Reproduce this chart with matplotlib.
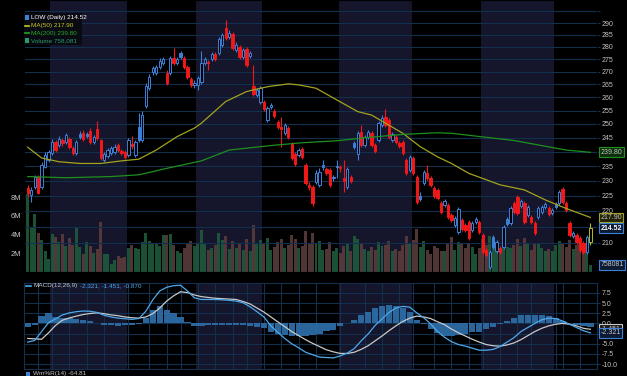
import numpy as np
import pandas as pd
import matplotlib.pyplot as plt
from matplotlib.patches import Rectangle
from matplotlib.ticker import FixedLocator, NullLocator, FuncFormatter

plt.rcParams['font.family'] = ['Liberation Sans', 'DejaVu Sans']

# trading days shown on the chart
holidays = ['2025-11-27', '2025-12-25', '2026-01-01', '2026-01-19', '2026-02-16',
            '2026-04-03', '2026-05-25', '2026-06-19', '2026-07-03']
days = pd.bdate_range('2025-11-19', '2026-07-16', freq='C', holidays=holidays)

opens = [227.6, 225.2, 227.9, 231.3, 227.9, 234.7, 237.1, 239.6, 243.5, 242.4,
         244.2, 243.5, 244.6, 241.3, 239.6, 246.4, 246.7, 246.4, 247.4, 243.5,
         248.2, 244.2, 237.1, 238.5, 239.6, 239.9, 242.4, 240.3, 239.9, 238.9,
         242.8, 238.9, 248.9, 244.2, 256.7, 263.6, 269.9, 269.5, 271.8, 273.4,
         269.5, 269.5, 275.5, 273.4, 277.5, 275.5, 271.8, 267.1, 264.8, 264.8,
         265.9, 273.4, 273.8, 275.1, 277.1, 277.5, 280.8, 287.9, 284.1, 285.3,
         278.7, 280.0, 275.9, 279.1, 276.3, 264.4, 260.9, 258.2, 258.2, 251.5,
         256.3, 254.8, 250.7, 248.9, 246.7, 248.5, 242.8, 239.2, 238.9, 241.0,
         235.4, 228.6, 227.9, 229.6, 228.6, 235.4, 234.0, 233.7, 231.3, 235.0,
         234.7, 230.9, 227.9, 231.3, 243.1, 239.2, 247.1, 242.4, 245.3, 246.7,
         242.4, 244.2, 249.6, 252.6, 251.5, 244.2, 245.3, 243.1, 243.5, 237.1,
         233.7, 237.8, 231.3, 224.9, 229.2, 232.6, 230.9, 227.6, 226.9, 222.6,
         222.0, 222.0, 218.7, 215.5, 213.3, 217.1, 215.5, 216.5, 213.9, 216.5,
         216.5, 212.4, 207.8, 202.6, 211.8, 207.4, 208.4, 208.7, 217.4, 216.1,
         222.6, 224.6, 221.6, 222.6, 218.7, 218.1, 216.1, 218.1, 219.7, 221.3,
         221.0, 219.4, 222.3, 222.6, 227.2, 222.6, 216.1, 212.1, 212.4, 211.4,
         209.9, 207.1, 210.2]
closes = [225.9, 226.9, 231.3, 225.9, 235.4, 238.9, 239.9, 243.5, 240.6, 244.6,
          243.1, 246.0, 241.7, 239.6, 243.5, 245.3, 244.6, 245.6, 243.5, 245.3,
          244.9, 237.8, 239.2, 240.6, 241.3, 241.7, 240.6, 239.6, 238.2, 244.2,
          242.1, 243.5, 244.2, 253.3, 264.4, 267.9, 271.4, 271.8, 274.2, 275.1,
          265.5, 275.5, 273.4, 275.1, 275.9, 271.8, 267.9, 264.8, 265.5, 267.5,
          273.4, 275.1, 273.4, 277.1, 275.1, 283.3, 284.9, 283.7, 285.8, 279.5,
          280.8, 275.9, 278.7, 272.6, 277.5, 261.3, 262.8, 263.6, 255.6, 255.9,
          257.1, 253.0, 248.9, 248.2, 249.6, 245.3, 237.8, 235.7, 240.6, 238.2,
          229.2, 227.9, 222.6, 232.6, 233.0, 234.7, 232.6, 228.6, 230.9, 234.7,
          234.4, 229.9, 234.0, 229.9, 241.7, 246.7, 242.4, 245.3, 247.1, 242.4,
          240.3, 250.4, 252.2, 249.6, 245.3, 246.4, 243.5, 242.1, 239.6, 232.6,
          238.2, 232.6, 222.9, 223.9, 233.0, 230.9, 228.6, 224.9, 224.2, 219.7,
          223.3, 218.1, 217.1, 217.7, 220.6, 214.3, 213.9, 211.4, 216.1, 217.4,
          213.3, 207.1, 206.2, 207.1, 208.7, 210.2, 207.1, 214.9, 215.8, 221.0,
          219.7, 219.4, 223.3, 216.5, 221.3, 216.5, 213.0, 221.0, 221.3, 222.3,
          219.0, 220.3, 221.3, 226.2, 222.9, 220.3, 212.4, 213.0, 210.2, 207.8,
          207.1, 211.8, 214.52]
highs = [228.6, 227.9, 232.0, 232.0, 236.4, 239.9, 240.6, 244.6, 244.2, 245.6,
         244.9, 246.7, 245.3, 242.1, 244.2, 247.4, 247.8, 247.1, 248.5, 246.0,
         251.1, 244.6, 239.9, 241.3, 242.1, 242.8, 243.1, 241.0, 240.6, 244.9,
         245.6, 244.2, 254.1, 254.8, 265.5, 269.1, 272.2, 272.6, 275.5, 275.9,
         270.7, 276.3, 279.5, 275.9, 278.3, 276.3, 272.6, 267.9, 266.7, 268.3,
         278.3, 275.9, 274.7, 277.9, 277.9, 284.1, 285.8, 291.3, 287.0, 286.2,
         282.0, 280.8, 279.5, 280.0, 278.3, 272.6, 263.6, 264.4, 259.0, 256.7,
         257.8, 255.6, 251.5, 252.6, 250.4, 249.3, 243.5, 239.9, 241.3, 241.7,
         236.1, 229.6, 228.6, 233.7, 234.4, 237.1, 234.7, 234.4, 232.0, 237.1,
         235.4, 237.1, 234.7, 232.0, 243.8, 247.4, 249.6, 246.0, 247.8, 247.4,
         243.1, 251.1, 253.3, 255.6, 252.2, 247.1, 246.0, 243.8, 244.2, 237.8,
         238.9, 238.5, 232.0, 226.2, 233.7, 235.4, 231.6, 228.2, 227.6, 223.3,
         223.9, 222.6, 219.4, 218.4, 221.3, 217.7, 216.1, 217.1, 216.8, 218.1,
         217.1, 213.0, 208.4, 207.8, 212.4, 210.8, 209.0, 215.5, 218.1, 221.6,
         223.3, 225.2, 223.9, 223.3, 222.0, 218.7, 216.8, 221.6, 222.0, 222.9,
         221.6, 221.0, 222.9, 226.9, 227.9, 223.3, 216.8, 213.6, 213.0, 212.1,
         210.5, 212.4, 216.1]
lows = [224.6, 222.9, 227.2, 225.6, 227.2, 234.3, 236.4, 238.9, 239.9, 241.7,
        242.1, 242.8, 241.0, 238.9, 238.9, 244.6, 243.9, 244.9, 242.8, 242.8,
        244.2, 237.1, 236.4, 237.8, 238.9, 239.2, 239.9, 238.9, 237.5, 238.2,
        241.0, 238.2, 243.5, 243.5, 256.0, 262.8, 268.7, 268.7, 271.0, 272.6,
        264.8, 268.7, 272.6, 272.6, 275.1, 271.0, 267.1, 264.0, 263.6, 262.8,
        265.1, 272.6, 270.7, 274.2, 274.2, 276.7, 280.0, 282.8, 283.3, 278.7,
        277.9, 275.1, 275.1, 271.8, 275.5, 260.5, 260.1, 257.5, 254.8, 250.7,
        255.6, 252.2, 248.2, 241.7, 246.0, 244.6, 237.1, 235.0, 238.2, 237.5,
        228.6, 226.9, 221.6, 228.9, 227.9, 233.7, 232.0, 227.9, 229.9, 230.9,
        233.0, 226.2, 227.2, 229.2, 241.0, 237.1, 241.7, 241.7, 244.6, 241.7,
        239.6, 243.5, 248.9, 248.9, 244.6, 243.5, 242.8, 241.3, 238.9, 232.0,
        233.0, 232.0, 222.3, 223.3, 228.6, 230.3, 227.9, 224.2, 223.6, 219.0,
        221.3, 217.4, 216.5, 214.9, 212.7, 213.6, 213.3, 210.8, 213.3, 215.8,
        212.7, 206.5, 205.6, 202.0, 208.1, 206.8, 206.5, 208.1, 215.2, 215.5,
        219.0, 218.7, 221.0, 215.8, 218.1, 215.8, 212.4, 217.4, 219.0, 220.6,
        218.4, 218.7, 220.6, 222.0, 222.3, 219.7, 211.8, 211.4, 209.6, 207.1,
        206.5, 206.5, 209.3]
# volume in millions of shares (last bar is the partial session: 758,081)
volume = [8.3, 4.7, 6.2, 4.2, 3.4, 2.3, 1.4, 4.1, 3.7, 3.2,
          4.1, 2.8, 3.6, 2.9, 4.8, 2.7, 1.9, 3.2, 2.8, 2.0,
          2.5, 5.4, 1.9, 1.9, 0.9, 1.25, 1.7, 1.5, 1.6, 2.6,
          2.9, 2.6, 2.5, 3.2, 4.2, 3.3, 3.0, 3.0, 2.8, 4.0,
          4.0, 4.1, 2.9, 2.2, 2.0, 2.6, 3.0, 3.3, 2.8, 3.1,
          4.5, 3.0, 2.4, 2.6, 2.9, 4.2, 3.4, 3.8, 2.5, 3.3,
          2.6, 3.0, 2.4, 3.5, 2.2, 5.0, 3.1, 3.4, 3.0, 3.6,
          2.4, 2.7, 3.2, 3.5, 2.6, 2.9, 4.0, 3.5, 2.6, 2.8,
          4.4, 3.0, 4.2, 3.1, 3.3, 2.4, 2.5, 3.2, 2.3, 2.6,
          2.0, 2.8, 3.0, 2.2, 3.9, 3.5, 3.0, 2.5, 2.3, 2.7,
          2.4, 3.2, 2.8, 2.9, 3.3, 2.2, 2.5, 2.3, 2.9, 3.8,
          3.0, 3.4, 4.6, 2.7, 3.3, 2.4, 1.9, 2.8, 2.6, 2.2,
          2.3, 3.0, 3.7, 2.4, 3.2, 3.0, 2.6, 3.1, 2.7, 1.9,
          2.6, 3.5, 2.9, 3.8, 3.0, 2.6, 2.5, 3.4, 2.7, 2.6,
          2.9, 3.5, 2.8, 3.6, 3.0, 2.4, 3.0, 3.1, 2.6, 2.2,
          2.5, 2.3, 2.9, 3.3, 3.1, 2.7, 3.4, 2.5, 2.9, 3.2,
          2.8, 2.6, 0.758081]

ma50_idx = [0, 4, 9, 15, 21, 27, 32, 37, 43, 48, 50, 57, 63, 67, 70, 73, 75, 78,
            83, 89, 95, 99, 103, 108, 113, 118, 122, 127, 136, 143, 149, 155, 162]
ma50 = [241.6, 237.8, 236.5, 235.9, 235.9, 236.8, 237.4, 240.6, 245.4, 248.5, 250.3,
        258.4, 262.2, 263.5, 264.3, 264.8, 265.2, 264.8, 263.5, 259.0, 254.6, 253.3,
        250.3, 246.6, 241.8, 238.2, 235.9, 232.5, 228.6, 226.9, 223.6, 220.8, 217.9]
ma200_idx = [0, 11, 24, 32, 40, 50, 58, 70, 79, 89, 98, 108, 118, 122, 140, 155, 162]
ma200 = [231.4, 231.0, 231.4, 232.0, 234.2, 236.8, 240.6, 242.2, 243.2, 243.9,
         245.1, 246.2, 246.8, 246.6, 244.0, 240.6, 239.8]

# MACD(12,26,9) read every second session
macd_idx = list(range(0, 161, 2)) + [162]
macd = [-4.6, -4.2, -2.0, 0.2, 1.1, 2.1, 2.6, 2.9, 3.05, 3.0,
        2.7, 2.0, 1.6, 1.3, 1.15, 1.0, 1.2, 3.0, 5.8, 8.0,
        8.9, 9.3, 9.4, 8.0, 6.3, 5.9, 5.9, 5.9, 5.8, 5.7,
        5.5, 5.1, 4.1, 2.9, 1.6, -0.6, -2.2, -3.7, -5.0, -6.0,
        -7.1, -7.7, -8.3, -8.4, -8.5, -8.0, -7.3, -6.2, -4.3, -2.6,
        -0.5, 1.1, 2.7, 3.8, 4.2, 4.0, 2.6, 1.4, -0.1, -2.0,
        -3.4, -4.5, -5.2, -5.6, -6.1, -6.6, -6.6, -6.4, -5.7, -4.6,
        -3.5, -2.0, -1.0, 0.0, 0.9, 1.3, 1.2, 0.6, -0.2, -1.0,
        -1.8, -2.321]
signal = [-3.7, -3.8, -3.9, -2.3, -0.5, 0.8, 1.35, 1.8, 2.2, 2.45,
          2.6, 2.4, 2.1, 1.9, 1.6, 1.4, 1.3, 1.6, 2.4, 3.8,
          5.5, 6.8, 7.8, 7.6, 7.0, 6.6, 6.4, 6.2, 6.1, 6.0,
          5.9, 5.4, 4.8, 3.8, 2.8, 1.6, 0.4, -0.8, -2.0, -3.0,
          -4.0, -4.9, -5.7, -6.5, -7.0, -7.4, -7.4, -7.1, -6.4, -5.5,
          -4.3, -3.1, -1.8, -0.6, 0.5, 1.3, 1.8, 1.6, 1.2, 0.4,
          -0.3, -1.4, -2.3, -3.1, -3.9, -4.6, -5.2, -5.5, -5.6, -5.3,
          -4.8, -4.0, -3.0, -2.0, -1.2, -0.6, -0.2, 0.0, -0.2, -0.6,
          -1.2, -1.451]

tick_dates = ['2025-11-24', '2025-12-01', '2025-12-08', '2025-12-15', '2025-12-22',
              '2026-01-02', '2026-01-12', '2026-01-20', '2026-01-26', '2026-02-02',
              '2026-02-09', '2026-02-17', '2026-02-23', '2026-03-02', '2026-03-09',
              '2026-03-16', '2026-03-23', '2026-04-01', '2026-04-13', '2026-04-20',
              '2026-04-27', '2026-05-01', '2026-05-11', '2026-05-18', '2026-05-26',
              '2026-06-01', '2026-06-08', '2026-06-15', '2026-06-22', '2026-07-01',
              '2026-07-06', '2026-07-13']
tick_labels = ['24', 'Dec', '8', '15', '22', '2026', '12', '20', '26', 'Feb', '9', '17',
               '23', 'Mar', '9', '16', '23', 'Apr', '13', '20', '27', 'May', '11', '18',
               '26', 'Jun', '8', '15', '22', 'Jul', '6', '13']
price_ticks = list(range(210, 295, 5))
hidden_price = (215, 240, 295)   # gridline only: label sits under a value tag / off-panel

W, H = 627, 376
BG = 'black'
SHADE = '#15152c'
GRID = '#12304e'
BLUE = '#3d80d8'
RED = '#f01818'
YEL = '#b8b822'
TXT = '#c4c4c4'
FS = 5.0

fig = plt.figure(figsize=(W / 100, H / 100), dpi=100, facecolor=BG)
axv = fig.add_axes([24 / W, 1 - 272 / H, 573 / W, 272 / H])
ax = axv.twinx()
axm = fig.add_axes([24 / W, 1 - 369 / H, 573 / W, 86 / H])

n = len(closes)
xlim = (-1.07, 163.9)
ticks = days.get_indexer(pd.to_datetime(tick_dates))

# month shading
for a in (axv, axm):
    a.set_facecolor(BG)
    for m in (12, 2, 4, 6):
        sel = np.where(days.month == m)[0]
        a.axvspan(sel[0] - 0.5, sel[-1] + 0.5, color=SHADE, lw=0, zorder=0)
    for s in a.spines.values():
        s.set_color(GRID)
        s.set_linewidth(0.8)
    a.set_xlim(*xlim)
    a.set_xticks(ticks)
ax.set_zorder(axv.get_zorder() + 1)
ax.patch.set_visible(False)

# volume
vcol = ['#1f5a3b' if i == 0 or closes[i] >= closes[i - 1] else '#5a3b3b' for i in range(n)]
axv.bar(range(n), volume, width=0.86, color=vcol, alpha=0.9, zorder=1)
axv.set_ylim(0, 29.1)
axv.yaxis.tick_left()
axv.set_yticks([2, 4, 6, 8])
axv.set_yticklabels(['2M', '4M', '6M', '8M'])
axv.tick_params(axis='y', colors=TXT, labelsize=FS + 0.4, length=0, pad=2)
axv.tick_params(axis='x', length=0, labelbottom=False)

# price panel
ax.set_yscale('log')
ax.set_ylim(201.1, 300.0)
ax.yaxis.set_major_locator(FixedLocator(price_ticks + [295]))
ax.yaxis.set_minor_locator(NullLocator())
ax.yaxis.set_major_formatter(FuncFormatter(
    lambda v, p: '' if round(v) in hidden_price else f'{v:.0f}'))
ax.tick_params(axis='y', colors=TXT, labelsize=FS, length=2, pad=1.5, color=GRID)
ax.grid(True, color=GRID, lw=0.8)
ax.set_axisbelow(True)

for i in range(n):
    o, h, l, c = opens[i], highs[i], lows[i], closes[i]
    prev = closes[i - 1] if i > 0 else o
    col = BLUE if c >= prev else RED
    edge = YEL if i == n - 1 else col      # current session highlighted
    ax.vlines(i, l, h, color=edge, lw=0.8, zorder=3)
    lo_b, hi_b = min(o, c), max(o, c)
    face = BG if c > o else col
    ax.add_patch(Rectangle((i - 0.33, lo_b), 0.66, max(hi_b - lo_b, 0.25),
                           fc=face, ec=edge, lw=0.7, zorder=4))

ax.plot(ma50_idx, ma50, color='#a3a31e', lw=0.9, zorder=5)
ax.plot(ma200_idx, ma200, color='#1e901e', lw=0.9, zorder=5)

ax.set_xticks(ticks)
ax.set_xticklabels(tick_labels)
ax.tick_params(axis='x', colors=TXT, labelsize=FS, length=0, pad=1.8)
for t in ax.get_xticklabels():
    if not t.get_text().isdigit() or t.get_text() == '2026':
        t.set_fontweight('bold')
        t.set_color('white')
        t.set_fontsize(FS + 0.6)

# right-side value tags
yt = ax.get_yaxis_transform()
tag = dict(fontsize=FS, va='center', ha='left', transform=yt, zorder=10)
ax.text(1.006, 239.80, '239.80', color=TXT,
        bbox=dict(boxstyle='square,pad=0.2', fc='#0c2e0c', ec='#1e901e', lw=0.8), **tag)
ax.text(1.006, 217.90, '217.90', color=TXT,
        bbox=dict(boxstyle='square,pad=0.2', fc='#222208', ec='#a3a31e', lw=0.8), **tag)
ax.text(1.006, 214.52, '214.52', color='white', fontweight='bold',
        bbox=dict(boxstyle='square,pad=0.2', fc='#0c1a33', ec=BLUE, lw=0.8), **tag)
axv.text(1.006, 0.758081, '758081', color=TXT, fontsize=FS, va='center', ha='left',
         transform=axv.get_yaxis_transform(),
         bbox=dict(boxstyle='square,pad=0.2', fc='#0c1a33', ec=BLUE, lw=0.8))

# legend top-left
fig.patches.append(Rectangle((24 / W, 1 - 45 / H), 58 / W, 32 / H, transform=fig.transFigure,
                             fc='#0a0a12', ec='none', zorder=20))
legend_rows = [('LOW (Daily) 214.52', 'white', 17.5),
               ('MA(50) 217.90', '#c8c820', 25.5),
               ('MA(200) 239.80', '#22a822', 33),
               ('Volume 758,081', '#2a9a6a', 40.5)]
for txt, col, yp in legend_rows:
    fig.text(31 / W, 1 - yp / H, txt, color=col, fontsize=4.6, va='center', ha='left', zorder=21)
fig.patches.append(Rectangle((25 / W, 1 - 20 / H), 4 / W, 5 / H, transform=fig.transFigure,
                             fc=BLUE, ec='none', zorder=21))
fig.lines.append(plt.Line2D([25 / W, 29 / W], [1 - 25.5 / H] * 2, color='#c8c820', lw=1.2,
                            transform=fig.transFigure, zorder=21))
fig.lines.append(plt.Line2D([25 / W, 29 / W], [1 - 33 / H] * 2, color='#22a822', lw=1.2,
                            transform=fig.transFigure, zorder=21))
fig.patches.append(Rectangle((25 / W, 1 - 43 / H), 4 / W, 5 / H, transform=fig.transFigure,
                             fc='#2a9a6a', ec='none', zorder=21))

# MACD panel
macd_a = np.array(macd)
sig_a = np.array(signal)
axm.bar(macd_idx, macd_a - sig_a, width=1.8, color='#2d6ca4', alpha=0.95, zorder=2)
axm.plot(macd_idx, sig_a, color='#c8c8c8', lw=0.9, zorder=3)
axm.plot(macd_idx, macd_a, color='#4ea8ea', lw=0.9, zorder=4)
axm.set_ylim(-11.23, 9.96)
axm.yaxis.tick_right()
axm.set_yticks(np.arange(-10, 8, 2.5))
axm.yaxis.set_major_formatter(FuncFormatter(lambda v, p: '' if abs(v + 2.5) < 0.1 else f'{v:.1f}'))
axm.tick_params(axis='y', colors=TXT, labelsize=FS, length=2, pad=1.5, color=GRID)
axm.tick_params(axis='x', length=0, labelbottom=False)
axm.grid(True, color=GRID, lw=0.8)
axm.set_axisbelow(True)
myt = axm.get_yaxis_transform()
axm.text(1.006, -1.451, '-1.451', color=TXT, fontsize=FS, va='center', ha='left', transform=myt,
         bbox=dict(boxstyle='square,pad=0.2', fc='#1a1a1a', ec='#c8c8c8', lw=0.8))
axm.text(1.006, -2.321, '-2.321', color=TXT, fontsize=FS, va='center', ha='left', transform=myt,
         bbox=dict(boxstyle='square,pad=0.2', fc='#0c1a33', ec=BLUE, lw=0.8))

fig.lines.append(plt.Line2D([26 / W, 31 / W], [1 - 285.5 / H] * 2, color='#4ea8ea', lw=1.2,
                            transform=fig.transFigure))
fig.text(33 / W, 1 - 285.5 / H, 'MACD(12,26,9)', color=TXT, fontsize=4.6, va='center')
fig.text(80 / W, 1 - 285.5 / H, '-2.321, -1.451, -0.870', color='#4ea8ea', fontsize=4.6, va='center')
fig.text(33 / W, 1 - 374 / H, 'Wm%R(14) -64.81', color=TXT, fontsize=4.6, va='center')
fig.patches.append(Rectangle((26 / W, 1 - 376 / H), 4 / W, 4 / H, transform=fig.transFigure,
                             fc=BLUE, ec='none'))

fig.savefig('out.png', dpi=100, facecolor=BG)
